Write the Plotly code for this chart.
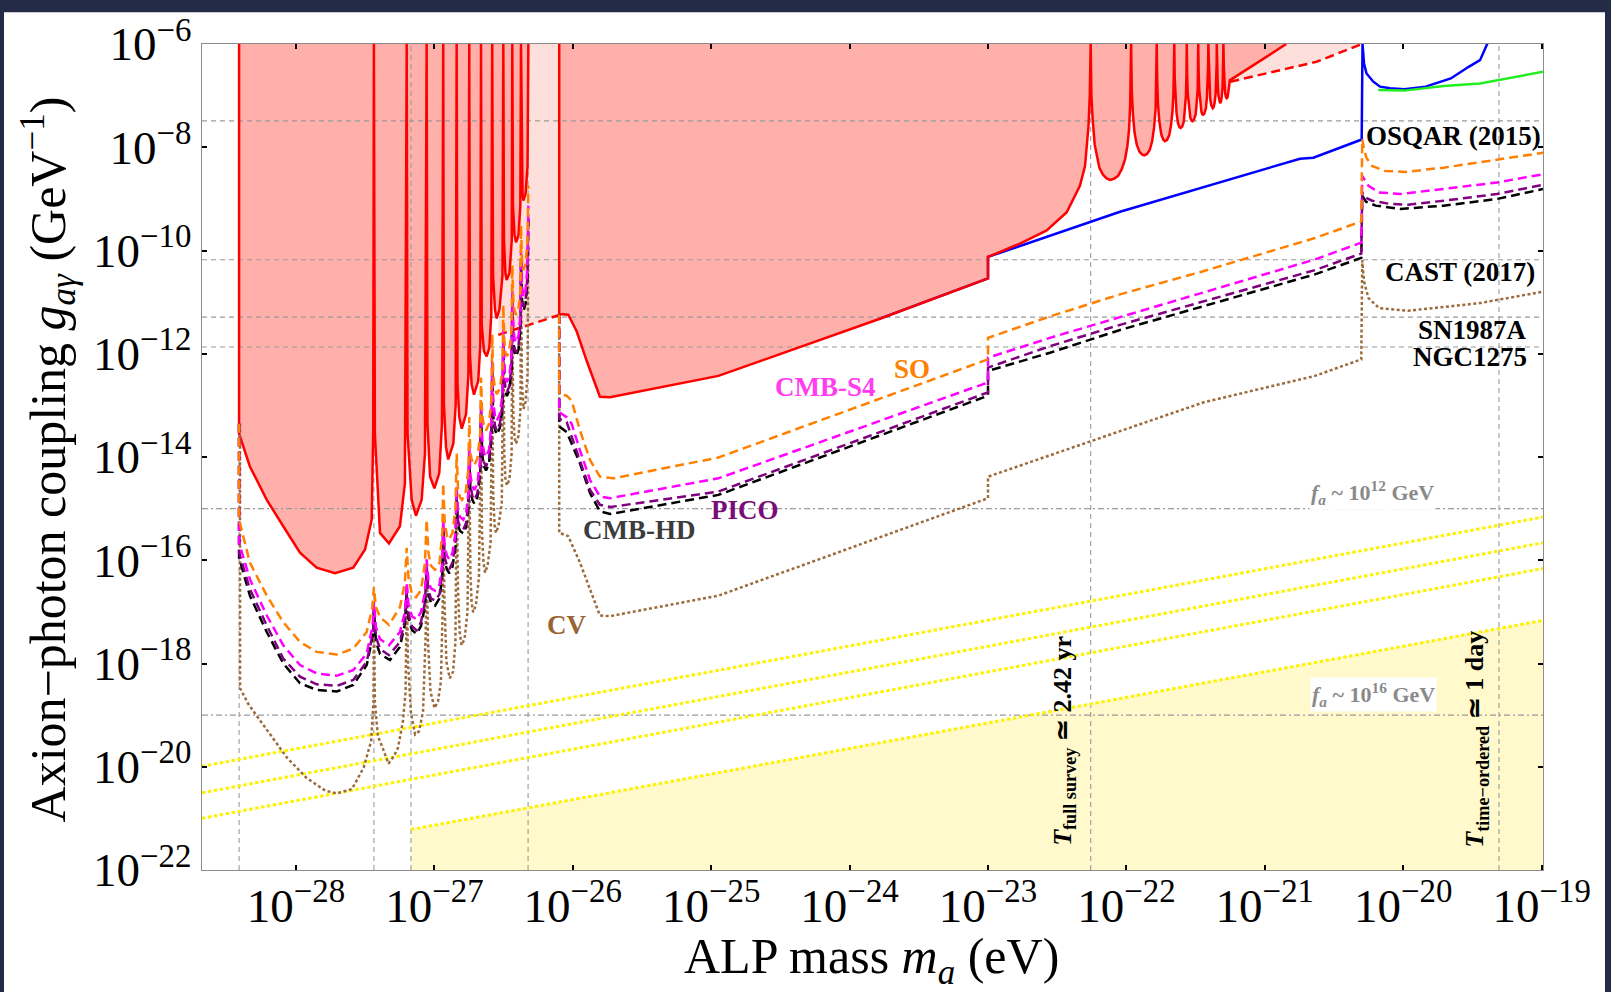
import numpy as np
import plotly.graph_objects as go

# ------------------------------------------------------------------
# Curves as (log10 m_a [eV], log10 g_ay [GeV^-1]) pairs
# ------------------------------------------------------------------
G_TOP, G_BOT = -6.0, -22.0
M_LEFT, M_RIGHT = -28.679, -18.99

# excluded region, low-mass band (resonant spikes)
red_low = [
    (-28.411, -6.0), (-28.411, -13.549), (-28.333, -14.183), (-28.211, -14.830), (-28.092, -15.341),
    (-27.971, -15.854), (-27.851, -16.142), (-27.718, -16.252), (-27.586, -16.142), (-27.501, -15.791),
    (-27.453, -15.214), (-27.442, -13.55), (-27.437, -6.0),
    (-27.430, -13.55), (-27.393, -15.470), (-27.328, -15.675), (-27.249, -15.341), (-27.213, -14.51), (-27.200, -6.0),
    (-27.194, -13.55), (-27.164, -14.830), (-27.133, -15.138), (-27.092, -14.830), (-27.068, -13.933), (-27.056, -6.0),
    (-27.050, -13.357), (-27.031, -14.381), (-27.000, -14.606), (-26.965, -14.317), (-26.945, -13.357), (-26.936, -6.0),
    (-26.931, -12.973), (-26.916, -13.805), (-26.900, -14.048), (-26.863, -13.741), (-26.846, -12.973), (-26.839, -6.0),
    (-26.833, -12.589), (-26.820, -13.228), (-26.802, -13.453), (-26.771, -13.165), (-26.754, -12.397), (-26.748, -6.0),
    (-26.743, -12.012), (-26.731, -12.589), (-26.714, -12.794), (-26.683, -12.525), (-26.668, -11.820), (-26.663, -6.0),
    (-26.658, -11.436), (-26.642, -11.949), (-26.622, -12.051), (-26.603, -11.884), (-26.589, -11.244), (-26.582, -6.0),
    (-26.576, -10.476), (-26.562, -11.148), (-26.550, -11.315), (-26.530, -11.148), (-26.508, -10.476), (-26.502, -6.0),
    (-26.497, -9.803), (-26.487, -10.437), (-26.478, -10.572), (-26.457, -10.437), (-26.441, -9.803), (-26.437, -6.0),
    (-26.432, -9.131), (-26.421, -9.707), (-26.410, -9.842), (-26.392, -9.707), (-26.379, -9.131), (-26.374, -6.0),
    (-26.369, -8.363), (-26.363, -8.901), (-26.357, -9.035), (-26.341, -8.901), (-26.327, -8.363), (-26.321, -6.0),
]

# excluded region, main band
red_main = [
    (-26.098, -6.0), (-26.098, -11.230), (-26.033, -11.244), (-25.972, -11.565), (-25.899, -12.141),
    (-25.804, -12.832), (-25.731, -12.844), (-24.948, -12.429), (-23.781, -11.321), (-23.0, -10.539),
    (-23.0, -10.124), (-22.769, -9.867), (-22.576, -9.611), (-22.431, -9.260), (-22.336, -8.747),
    (-22.299, -8.363), (-22.274, -7.594), (-22.265, -7.0), (-22.258, -6.0),
    (-22.253, -7.0), (-22.244, -7.45), (-22.229, -7.95), (-22.214, -8.15), (-22.195, -8.40), (-22.170, -8.53),
    (-22.145, -8.60), (-22.119, -8.632), (-22.090, -8.61), (-22.060, -8.555), (-22.033, -8.42), (-22.010, -8.234),
    (-21.993, -7.98), (-21.981, -7.658), (-21.973, -7.2), (-21.966, -6.0),
    (-21.961, -6.9), (-21.953, -7.35), (-21.941, -7.72), (-21.925, -7.95), (-21.905, -8.09), (-21.887, -8.14),
    (-21.871, -8.157), (-21.851, -8.13), (-21.831, -8.05), (-21.814, -7.88), (-21.800, -7.62), (-21.789, -7.25),
    (-21.785, -6.8), (-21.781, -6.0),
    (-21.777, -6.75), (-21.772, -7.15), (-21.762, -7.50), (-21.748, -7.75), (-21.734, -7.85), (-21.722, -7.882),
    (-21.707, -7.86), (-21.691, -7.77), (-21.678, -7.58), (-21.667, -7.30), (-21.660, -6.95), (-21.656, -6.6),
    (-21.654, -6.0),
    (-21.651, -6.65), (-21.647, -7.0), (-21.638, -7.33), (-21.627, -7.54), (-21.617, -7.61), (-21.608, -7.627),
    (-21.597, -7.60), (-21.585, -7.50), (-21.577, -7.30), (-21.570, -7.0), (-21.566, -6.6), (-21.564, -6.0),
    (-21.561, -6.6), (-21.557, -6.95), (-21.548, -7.25), (-21.538, -7.43), (-21.529, -7.49), (-21.522, -7.498),
    (-21.513, -7.47), (-21.500, -7.37), (-21.493, -7.17), (-21.485, -6.88), (-21.483, -6.5), (-21.481, -6.0),
    (-21.478, -6.55), (-21.474, -6.88), (-21.467, -7.15), (-21.458, -7.31), (-21.452, -7.36), (-21.445, -7.370),
    (-21.437, -7.35), (-21.426, -7.25), (-21.419, -7.06), (-21.413, -6.80), (-21.410, -6.45), (-21.408, -6.0),
    (-21.404, -6.5), (-21.401, -6.82), (-21.395, -7.05), (-21.387, -7.19), (-21.382, -7.235), (-21.376, -7.243),
    (-21.369, -7.22), (-21.362, -7.13), (-21.355, -6.95), (-21.350, -6.70), (-21.348, -6.4), (-21.347, -6.0),
    (-21.344, -6.5), (-21.340, -6.80), (-21.335, -7.00), (-21.329, -7.12), (-21.323, -7.147), (-21.317, -7.12),
    (-21.311, -7.02), (-21.305, -6.82), (-21.302, -6.5), (-21.299, -6.0),
    (-21.296, -6.45), (-21.292, -6.75), (-21.287, -6.94), (-21.281, -7.03), (-21.275, -7.051), (-21.269, -7.03),
    (-21.263, -6.94), (-21.257, -6.80), (-21.253, -6.704), (-20.845, -6.0),
]

# weaker (dashed) red bounds
red_dash_a = [(-26.538, -11.634), (-26.098, -11.250)]
red_dash_b = [(-21.249, -6.730), (-20.628, -6.346), (-20.298, -6.0)]

blue_bound = [
    (-23.781, -11.321), (-23.0, -10.539), (-23.0, -10.124), (-22.046, -9.250), (-20.746, -8.222),
    (-20.649, -8.203), (-20.300, -7.850), (-20.294, -6.0), (-20.283, -6.378), (-20.265, -6.570),
    (-20.216, -6.730), (-20.167, -6.826), (-20.095, -6.859), (-19.993, -6.878), (-19.838, -6.826),
    (-19.656, -6.667), (-19.527, -6.442), (-19.445, -6.313), (-19.387, -5.962),
]
green_bound = [(-20.181, -6.893), (-19.993, -6.903), (-19.708, -6.813), (-19.445, -6.763), (-18.99, -6.538)]

so_low = [
    (-28.411, -13.357), (-28.411, -15.214), (-28.333, -16.046), (-28.211, -16.686), (-28.092, -17.199),
    (-27.971, -17.583), (-27.851, -17.775), (-27.705, -17.827), (-27.586, -17.712), (-27.489, -17.391),
    (-27.448, -16.911), (-27.437, -16.526),
    (-27.422, -16.911), (-27.393, -17.103), (-27.328, -17.251), (-27.249, -16.911), (-27.213, -16.430), (-27.200, -15.758),
    (-27.187, -16.334), (-27.162, -16.661), (-27.133, -16.718), (-27.097, -16.584), (-27.068, -16.046), (-27.056, -15.214),
    (-27.043, -15.854), (-27.025, -16.104), (-26.995, -16.186), (-26.963, -16.046), (-26.943, -15.470), (-26.936, -14.510),
    (-26.925, -15.278), (-26.909, -15.527), (-26.895, -15.598), (-26.869, -15.470), (-26.848, -14.990), (-26.839, -13.933),
    (-26.829, -14.606), (-26.815, -14.778), (-26.800, -14.830), (-26.775, -14.701), (-26.754, -14.221), (-26.748, -13.228),
    (-26.740, -13.933), (-26.725, -14.106), (-26.711, -14.158), (-26.689, -14.029), (-26.669, -13.549), (-26.663, -12.460),
    (-26.654, -13.203), (-26.641, -13.414), (-26.627, -13.486), (-26.605, -13.357), (-26.588, -12.877), (-26.582, -11.628),
    (-26.575, -12.397), (-26.562, -12.685), (-26.549, -12.781), (-26.527, -12.666), (-26.508, -12.301), (-26.502, -11.052),
    (-26.495, -11.724), (-26.487, -11.974), (-26.476, -12.051), (-26.458, -11.935), (-26.442, -11.532), (-26.437, -10.284),
    (-26.430, -10.956), (-26.421, -11.167), (-26.410, -11.244), (-26.392, -11.129), (-26.378, -10.764), (-26.374, -9.515),
    (-26.367, -10.188), (-26.356, -10.380), (-26.341, -10.245), (-26.327, -9.803), (-26.321, -8.747),
]
so_high = [
    (-26.098, -11.244), (-26.098, -12.781), (-26.044, -12.813), (-26.008, -12.910), (-25.948, -13.486),
    (-25.875, -14.062), (-25.804, -14.381), (-25.707, -14.413), (-24.948, -14.010), (-23.0, -12.108),
    (-23.0, -11.692), (-22.552, -11.277), (-22.046, -10.850), (-21.469, -10.420), (-20.638, -9.759),
    (-20.303, -9.438), (-20.296, -7.844), (-20.283, -8.042), (-20.265, -8.209), (-20.225, -8.363),
    (-20.131, -8.459), (-19.986, -8.478), (-19.708, -8.395), (-19.323, -8.247), (-18.99, -8.107),
]

s4_low = [
    (-28.411, -13.357), (-28.411, -15.662), (-28.333, -16.367), (-28.211, -17.070), (-28.092, -17.646),
    (-27.971, -18.031), (-27.851, -18.192), (-27.705, -18.236), (-27.586, -18.127), (-27.489, -17.808),
    (-27.446, -17.262), (-27.437, -16.815),
    (-27.422, -17.295), (-27.393, -17.525), (-27.328, -17.646), (-27.249, -17.391), (-27.213, -17.007), (-27.200, -16.430),
    (-27.187, -16.853), (-27.162, -17.083), (-27.128, -17.147), (-27.097, -17.007), (-27.068, -16.622), (-27.056, -15.983),
    (-27.043, -16.392), (-27.025, -16.546), (-26.995, -16.590), (-26.963, -16.469), (-26.943, -16.046), (-26.936, -15.214),
    (-26.925, -15.758), (-26.909, -15.912), (-26.892, -15.983), (-26.869, -15.854), (-26.848, -15.470), (-26.839, -14.573),
    (-26.829, -15.047), (-26.815, -15.163), (-26.791, -15.214), (-26.771, -15.086), (-26.754, -14.701), (-26.748, -13.741),
    (-26.740, -14.356), (-26.725, -14.567), (-26.711, -14.638), (-26.689, -14.510), (-26.669, -14.029), (-26.663, -12.909),
    (-26.654, -13.703), (-26.641, -13.914), (-26.627, -13.997), (-26.605, -13.856), (-26.588, -13.357), (-26.582, -12.141),
    (-26.575, -12.934), (-26.562, -13.203), (-26.549, -13.299), (-26.527, -13.165), (-26.508, -12.781), (-26.502, -11.532),
    (-26.495, -12.204), (-26.487, -12.473), (-26.476, -12.550), (-26.458, -12.435), (-26.442, -12.012), (-26.437, -10.764),
    (-26.430, -11.474), (-26.421, -11.705), (-26.410, -11.782), (-26.392, -11.647), (-26.378, -11.244), (-26.374, -9.995),
    (-26.367, -10.706), (-26.356, -10.898), (-26.341, -10.764), (-26.327, -10.322), (-26.321, -9.131),
]
s4_high = [
    (-26.098, -11.244), (-26.098, -13.132), (-26.044, -13.228), (-26.008, -13.357), (-25.948, -13.870),
    (-25.875, -14.446), (-25.804, -14.765), (-25.731, -14.798), (-24.948, -14.413), (-23.0, -12.556),
    (-23.0, -12.076), (-22.552, -11.692), (-22.046, -11.290), (-20.638, -10.174), (-20.303, -9.848),
    (-20.296, -8.555), (-20.251, -8.747), (-20.175, -8.876), (-20.018, -8.906), (-19.708, -8.810),
    (-19.323, -8.683), (-18.99, -8.522),
]

pico_low = [
    (-28.411, -13.357), (-28.411, -15.854), (-28.333, -16.559), (-28.211, -17.262), (-28.092, -17.903),
    (-27.971, -18.255), (-27.851, -18.403), (-27.705, -18.434), (-27.586, -18.318), (-27.489, -17.967),
    (-27.442, -17.391), (-27.437, -16.911),
    (-27.422, -17.487), (-27.393, -17.718), (-27.328, -17.839), (-27.249, -17.583), (-27.213, -17.160), (-27.200, -16.584),
    (-27.187, -17.045), (-27.162, -17.276), (-27.128, -17.358), (-27.097, -17.199), (-27.068, -16.815), (-27.056, -16.142),
    (-27.043, -16.584), (-27.025, -16.738), (-26.995, -16.782), (-26.963, -16.661), (-26.943, -16.238), (-26.936, -15.374),
    (-26.925, -15.950), (-26.909, -16.104), (-26.892, -16.175), (-26.869, -16.046), (-26.848, -15.662), (-26.839, -14.740),
    (-26.829, -15.239), (-26.815, -15.355), (-26.791, -15.406), (-26.771, -15.278), (-26.754, -14.894), (-26.748, -13.933),
    (-26.740, -14.548), (-26.725, -14.759), (-26.711, -14.830), (-26.689, -14.701), (-26.669, -14.221), (-26.663, -13.088),
    (-26.654, -13.895), (-26.641, -14.106), (-26.627, -14.183), (-26.605, -14.048), (-26.588, -13.549), (-26.582, -12.319),
    (-26.575, -13.126), (-26.562, -13.395), (-26.549, -13.491), (-26.527, -13.357), (-26.508, -12.973), (-26.502, -11.724),
    (-26.495, -12.397), (-26.487, -12.666), (-26.476, -12.742), (-26.458, -12.627), (-26.442, -12.205), (-26.437, -10.956),
    (-26.430, -11.667), (-26.421, -11.897), (-26.410, -11.974), (-26.392, -11.840), (-26.378, -11.436), (-26.374, -10.188),
    (-26.367, -10.898), (-26.356, -11.090), (-26.341, -10.956), (-26.327, -10.514), (-26.321, -9.323),
]
pico_high = [
    (-26.098, -11.244), (-26.098, -13.261), (-26.044, -13.324), (-25.948, -14.062), (-25.875, -14.638),
    (-25.804, -14.926), (-25.731, -14.970), (-24.948, -14.669), (-23.0, -12.748), (-23.0, -12.268),
    (-22.552, -11.853), (-22.046, -11.440), (-20.638, -10.380), (-20.303, -10.059), (-20.296, -8.876),
    (-20.269, -8.977), (-20.225, -9.035), (-20.095, -9.098), (-19.966, -9.112), (-19.708, -9.035),
    (-19.323, -8.906), (-18.99, -8.728),
]

hd_low = [
    (-28.411, -13.357), (-28.411, -15.950), (-28.333, -16.686), (-28.211, -17.391), (-28.092, -17.999),
    (-27.971, -18.384), (-27.851, -18.511), (-27.705, -18.543), (-27.586, -18.415), (-27.489, -18.031),
    (-27.442, -17.429), (-27.437, -16.949),
    (-27.422, -17.583), (-27.393, -17.814), (-27.321, -17.935), (-27.249, -17.679), (-27.213, -17.237), (-27.200, -16.622),
    (-27.187, -17.122), (-27.162, -17.352), (-27.128, -17.423), (-27.097, -17.276), (-27.068, -16.891), (-27.056, -16.200),
    (-27.043, -16.661), (-27.025, -16.815), (-26.995, -16.878), (-26.963, -16.738), (-26.943, -16.315), (-26.936, -15.431),
    (-26.925, -16.027), (-26.909, -16.181), (-26.892, -16.252), (-26.869, -16.123), (-26.848, -15.739), (-26.839, -14.798),
    (-26.829, -15.316), (-26.815, -15.431), (-26.791, -15.483), (-26.771, -15.355), (-26.754, -14.970), (-26.748, -13.991),
    (-26.740, -14.625), (-26.725, -14.836), (-26.711, -14.907), (-26.689, -14.778), (-26.669, -14.298), (-26.663, -13.146),
    (-26.654, -13.972), (-26.641, -14.183), (-26.627, -14.260), (-26.605, -14.125), (-26.588, -13.626), (-26.582, -12.377),
    (-26.575, -13.203), (-26.562, -13.472), (-26.549, -13.568), (-26.527, -13.434), (-26.508, -13.050), (-26.502, -11.782),
    (-26.495, -12.473), (-26.487, -12.742), (-26.476, -12.819), (-26.458, -12.704), (-26.442, -12.281), (-26.437, -11.013),
    (-26.430, -11.743), (-26.421, -11.974), (-26.410, -12.051), (-26.392, -11.916), (-26.378, -11.513), (-26.374, -10.245),
    (-26.367, -10.975), (-26.356, -11.167), (-26.341, -11.033), (-26.327, -10.591), (-26.321, -9.381),
]
hd_high = [
    (-26.098, -11.244), (-26.098, -13.409), (-26.044, -13.516), (-25.948, -14.125), (-25.875, -14.701),
    (-25.804, -15.053), (-25.731, -15.105), (-24.948, -14.734), (-23.0, -12.813), (-23.0, -12.333),
    (-22.552, -11.980), (-22.046, -11.540), (-20.638, -10.462), (-20.303, -10.143), (-20.296, -8.939),
    (-20.269, -9.054), (-20.199, -9.131), (-20.018, -9.194), (-19.708, -9.131), (-19.323, -9.002),
    (-18.99, -8.810),
]

cv_low = [
    (-28.404, -13.357), (-28.404, -18.480), (-28.341, -18.799), (-28.203, -19.312), (-28.065, -19.824),
    (-27.927, -20.209), (-27.788, -20.464), (-27.705, -20.516), (-27.595, -20.431), (-27.511, -20.016),
    (-27.457, -19.504), (-27.440, -18.735), (-27.437, -16.815),
    (-27.430, -18.735), (-27.408, -19.408), (-27.374, -19.632), (-27.332, -19.940), (-27.292, -19.792),
    (-27.263, -19.632), (-27.227, -19.120), (-27.208, -18.543), (-27.199, -16.526),
    (-27.191, -17.967), (-27.169, -18.966), (-27.139, -19.375), (-27.111, -19.312), (-27.082, -18.927),
    (-27.063, -17.448), (-27.054, -16.046),
    (-27.046, -17.583), (-27.028, -18.543), (-26.999, -18.864), (-26.974, -18.735), (-26.953, -18.351),
    (-26.939, -16.815), (-26.935, -15.374),
    (-26.927, -16.815), (-26.913, -17.967), (-26.889, -18.288), (-26.865, -18.159), (-26.848, -17.583), (-26.839, -14.702),
    (-26.829, -16.622), (-26.817, -17.391), (-26.804, -17.646), (-26.782, -17.525), (-26.761, -17.007), (-26.748, -13.933),
    (-26.740, -16.238), (-26.731, -16.815), (-26.720, -17.007), (-26.700, -16.872), (-26.678, -16.334), (-26.663, -13.165),
    (-26.656, -15.470), (-26.645, -16.046), (-26.634, -16.238), (-26.616, -16.104), (-26.594, -15.662), (-26.582, -12.397),
    (-26.575, -14.702), (-26.565, -15.316), (-26.555, -15.470), (-26.537, -15.335), (-26.513, -14.894), (-26.502, -11.820),
    (-26.495, -13.933), (-26.487, -14.413), (-26.476, -14.548), (-26.458, -14.433), (-26.442, -13.933), (-26.437, -11.148),
    (-26.430, -13.165), (-26.421, -13.626), (-26.410, -13.741), (-26.392, -13.588), (-26.378, -13.069), (-26.374, -10.476),
    (-26.367, -12.589), (-26.356, -13.069), (-26.341, -12.934), (-26.327, -12.397), (-26.321, -9.899),
]
cv_high = [
    (-26.098, -11.244), (-26.098, -15.470), (-26.033, -15.533), (-25.948, -16.046), (-25.804, -17.070),
    (-25.731, -17.083), (-24.948, -16.686), (-23.0, -14.798), (-23.0, -14.381), (-21.441, -12.940),
    (-20.638, -12.429), (-20.303, -12.108), (-20.296, -10.188), (-20.283, -10.604), (-20.251, -10.923),
    (-20.175, -11.115), (-19.966, -11.167), (-19.445, -11.019), (-18.99, -10.796),
]

# QCD-like bands (dotted yellow)
yellow_lines = [
    [(-28.679, -19.991), (-18.99, -15.163)],
    [(-28.679, -20.505), (-18.99, -15.662)],
    [(-28.679, -20.998), (-18.99, -16.161)],
    [(-27.169, -21.215), (-18.99, -17.166)],
]

# reference levels
ref_g_dashed = [-7.49, -10.18, -11.29, -11.87]   # OSQAR, CAST, SN1987A, NGC1275
ref_g_dashdot = [-15.0, -19.0]                   # f_a ~ 1e12, 1e16 GeV
ref_m_dashed = [-28.411, -27.437, -27.169, -26.323, -22.258, -19.308]

x_tick_exp = list(range(-28, -18))
y_tick_exp = list(range(-6, -23, -2))

curve_labels = [
    ("SO", -23.548, -12.300, "#ff7f00"),
    ("CMB-S4", -24.177, -12.652, "#ff3cf0"),
    ("PICO", -24.754, -15.022, "#7a0c7a"),
    ("CMB-HD", -25.521, -15.406, "#3c3c3c"),
    ("CV", -26.044, -17.262, "#9a6334"),
]
bound_labels = [
    ("OSQAR (2015)", -18.99, -7.777),
    ("CAST (2017)", -19.036, -10.412),
    ("SN1987A", -19.091, -11.532),
    ("NGC1275", -19.091, -12.070),
]

# ------------------------------------------------------------------
SERIF = "Liberation Serif, Times New Roman, serif"
W, H = 1611, 992
L, R, T, B = 202, 68, 37, 122
PW, PH = W - L - R, H - T - B


def xy(pts):
    lm, lg = zip(*pts)
    return 10 ** np.array(lm), 10 ** np.array(lg)


fig = go.Figure()


def poly(pts, color):
    x, y = xy(pts)
    fig.add_trace(go.Scatter(x=x, y=y, fill="toself", fillcolor=color, mode="lines",
                             line=dict(width=0, color=color), hoverinfo="skip", showlegend=False))


def curve(pts, color, width=2.5, dash=None):
    x, y = xy(pts)
    fig.add_trace(go.Scatter(x=x, y=y, mode="lines",
                             line=dict(color=color, width=width, dash=dash),
                             hoverinfo="skip", showlegend=False))


# shaded regions
y4 = yellow_lines[3]
poly(y4 + [(y4[1][0], G_BOT), (y4[0][0], G_BOT)], "#fff9cc")
poly(red_dash_a + [(red_dash_a[-1][0], G_TOP), (red_dash_a[0][0], G_TOP)], "#fde0db")
poly(red_dash_b + [(red_dash_b[0][0], G_TOP)], "#fde0db")
poly(red_low, "#ffb0ab")
poly(red_main, "#ffb0ab")

# reference lines
for g in ref_g_dashed:
    curve([(M_LEFT, g), (M_RIGHT, g)], "#9a9a9a", width=1.1, dash="5px,4px")
for g in ref_g_dashdot:
    curve([(M_LEFT, g), (M_RIGHT, g)], "#9a9a9a", width=1.1, dash="6px,3px,2px,3px")
for m in ref_m_dashed:
    curve([(m, G_BOT), (m, G_TOP)], "#9a9a9a", width=1.1, dash="5px,4px")

# yellow dotted lines
for ln in yellow_lines:
    curve(ln, "#fff200", width=3, dash="3.5px,2.5px")

# bounds
curve(red_dash_a, "#ff0000", dash="9px,5px")
curve(red_dash_b, "#ff0000", dash="9px,5px")
curve(blue_bound, "#0000ff")
curve(green_bound, "#22ee22")
curve(red_low, "#ff0000")
curve(red_main, "#ff0000")

# forecast sensitivities
DASH = "9px,5px"
for seg in (cv_low, cv_high):
    curve(seg, "#9c6b3c", dash="3px,2.5px")
for seg in (hd_low, hd_high):
    curve(seg, "#000000", dash=DASH)
for seg in (pico_low, pico_high):
    curve(seg, "#800080", dash=DASH)
for seg in (s4_low, s4_high):
    curve(seg, "#ff00ff", dash=DASH)
for seg in (so_low, so_high):
    curve(seg, "#ff8000", dash=DASH)

ann = []
for txt, lm, lg, col in curve_labels:
    ann.append(dict(x=lm, y=lg, text=f"<b>{txt}</b>", showarrow=False,
                    font=dict(family=SERIF, size=27, color=col)))
for txt, lm, lg in bound_labels:
    ann.append(dict(x=lm, y=lg, text=f"<b>{txt}</b>", showarrow=False, xanchor="right",
                    font=dict(family=SERIF, size=27, color="#000000")))
for lm, lg, p in [(-20.221, -14.682, 12), (-20.218, -18.601, 16)]:
    ann.append(dict(x=lm, y=lg, text=f"<b><i>f</i><sub><i>a</i></sub> ~ 10<sup>{p}</sup> GeV</b>",
                    showarrow=False, bgcolor="#ffffff",
                    font=dict(family=SERIF, size=22, color="#8a8a8a")))
ann.append(dict(x=-22.453, y=-19.504, textangle=-90, showarrow=False,
                text="<b><i>T</i><sub>full survey</sub> ≃ 2.42 yr</b>",
                font=dict(family=SERIF, size=26, color="#000000")))
ann.append(dict(x=-19.470, y=-19.465, textangle=-90, showarrow=False,
                text="<b><i>T</i><sub>time−ordered</sub> ≃ 1 day</b>",
                font=dict(family=SERIF, size=26, color="#000000")))
# axis titles
ann.append(dict(xref="paper", yref="paper", x=(871 - L) / PW, y=(H - B - 961) / PH,
                xanchor="center", yanchor="middle",
                text="ALP mass <i>m<sub>a</sub></i> (eV)", showarrow=False,
                font=dict(family=SERIF, size=50, color="#000000")))
ann.append(dict(xref="paper", yref="paper", x=(48 - L) / PW, y=(H - B - 456) / PH,
                xanchor="center", yanchor="middle", textangle=-90, showarrow=False,
                text="Axion−photon coupling <i>g</i><sub><i>aγ</i></sub> (GeV<sup>−1</sup>)",
                font=dict(family=SERIF, size=50, color="#000000")))

axis_common = dict(type="log", showgrid=False, zeroline=False, showline=True, linecolor="#8c8c8c",
                   linewidth=1.3, mirror="ticks", ticks="inside", ticklen=5, tickwidth=2,
                   tickcolor="#000000", tickfont=dict(family=SERIF, size=47, color="#000000"))

fig.update_layout(
    width=W, height=H,
    margin=dict(l=L, r=R, t=T, b=B),
    paper_bgcolor="#242b47", plot_bgcolor="#ffffff",
    showlegend=False,
    xaxis=dict(range=[M_LEFT, M_RIGHT], tickvals=[10.0 ** e for e in x_tick_exp],
               ticktext=[f"10<sup>−{-e}</sup>" for e in x_tick_exp], ticklabelstandoff=-6,
               **axis_common),
    yaxis=dict(range=[G_BOT, G_TOP], tickvals=[10.0 ** e for e in y_tick_exp],
               ticktext=[f"10<sup>−{-e}</sup>" for e in y_tick_exp], **axis_common),
    annotations=ann,
    shapes=[dict(type="rect", xref="paper", yref="paper", layer="below",
                 x0=(4 - L) / PW, x1=(1605 - L) / PW,
                 y0=-0.3, y1=(H - B - 5) / PH,
                 fillcolor="#ffffff", line=dict(width=0))],
)

fig.write_html("out.html")
